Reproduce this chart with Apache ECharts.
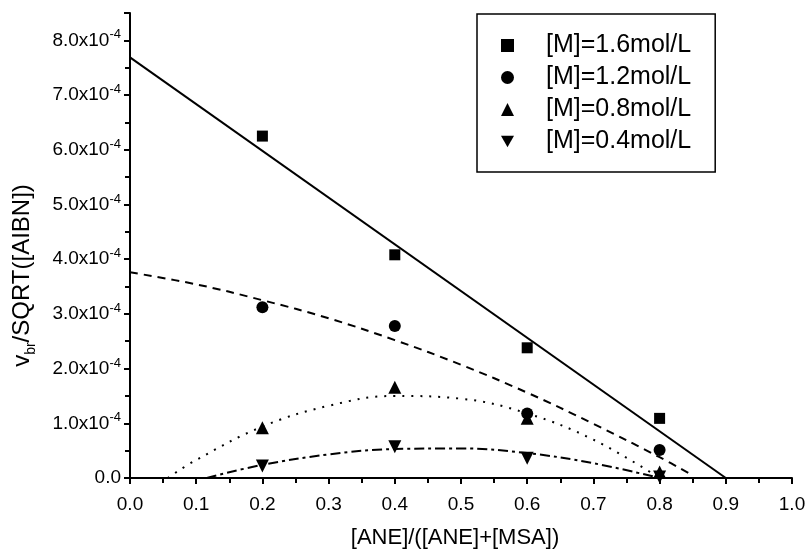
<!DOCTYPE html>
<html>
<head>
<meta charset="utf-8">
<script src="https://cdn.jsdelivr.net/npm/echarts@6/dist/echarts.min.js"></script>
<style>
  html, body { margin: 0; padding: 0; background: #fff; }
  #chart { width: 805px; height: 549px; }
</style>
</head>
<body>
<div id="chart"></div>
<script>
// values in units of 1e-4
const xPoints = [0.2, 0.4, 0.6, 0.8]
const m16 = [6.25, 4.08, 2.38, 1.09]
const m12 = [3.12, 2.78, 1.18, 0.51]
const m08 = [0.92, 1.66, 1.09, 0.11]
const m04 = [0.22, 0.57, 0.36, 0.02]
const seriesNames = ['[M]=1.6mol/L', '[M]=1.2mol/L', '[M]=0.8mol/L', '[M]=0.4mol/L']

// fitted curves
const fit16 = [[0, 7.69], [0.9, 0]]
const fit12 = [[0, 3.76], [0.1, 3.54], [0.2, 3.25], [0.3, 2.92], [0.4, 2.52], [0.5, 2.07], [0.6, 1.56], [0.7, 0.99], [0.8, 0.38], [0.85, 0.05]]
const fit08 = [[0.057, 0], [0.1, 0.33], [0.2, 0.94], [0.3, 1.32], [0.4, 1.5], [0.5, 1.45], [0.6, 1.18], [0.7, 0.7], [0.8, 0]]
const fit04 = [[0.116, 0], [0.2, 0.24], [0.3, 0.43], [0.4, 0.53], [0.5, 0.54], [0.6, 0.455], [0.7, 0.27], [0.8, 0]]

const font = 'Liberation Sans, Arial, sans-serif'
const downTri = 'path://M0,0 L10,0 L5,9 Z'

const chart = echarts.init(document.getElementById('chart'))

const pts = (ys) => xPoints.map((x, i) => [x, ys[i]])

const lineSeries = (data, type) => ({
  type: 'line',
  data: data,
  smooth: 0.4,
  symbol: 'none',
  silent: true,
  z: 1,
  lineStyle: { color: '#000', width: 2, type: type }
})

const scatterSeries = (name, data, symbol, size) => ({
  name: name,
  type: 'scatter',
  data: pts(data),
  symbol: symbol,
  symbolSize: size,
  z: 3,
  itemStyle: { color: '#000', opacity: 1 }
})

chart.setOption({
  backgroundColor: '#fff',
  animation: false,
  textStyle: { fontFamily: font },
  grid: { left: 130, right: 13, top: 13, bottom: 71, containLabel: false, outerBoundsMode: 'none' },
  legend: {
    orient: 'vertical',
    left: 477,
    top: 14,
    padding: [19, 24, 18, 24],
    itemWidth: 13,
    itemHeight: 13,
    itemGap: 7,
    borderColor: '#000',
    borderWidth: 1.5,
    data: seriesNames,
    textStyle: { fontFamily: font, fontSize: 25, lineHeight: 24, color: '#000', padding: [0, 0, 0, 27] }
  },
  xAxis: {
    type: 'value',
    min: 0,
    max: 1,
    interval: 0.1,
    name: '[ANE]/([ANE]+[MSA])',
    nameLocation: 'middle',
    nameGap: 49,
    nameTextStyle: { fontFamily: font, fontSize: 22, color: '#000', padding: [0, 12, 0, 0] },
    splitLine: { show: false },
    axisLine: { onZero: false, lineStyle: { color: '#000', width: 2 } },
    axisTick: { inside: false, length: 6, lineStyle: { color: '#000', width: 2 } },
    minorTick: { show: true, splitNumber: 2, length: 5, lineStyle: { color: '#000', width: 2 } },
    axisLabel: {
      fontFamily: font, fontSize: 19, color: '#000', margin: 17,
      formatter: (v) => v.toFixed(1)
    }
  },
  yAxis: {
    type: 'value',
    min: 0,
    max: 8.5,
    interval: 1,
    name: '{a|v}{b|br}{a|/SQRT([AIBN])}',
    nameLocation: 'middle',
    nameGap: 92,
    nameTextStyle: {
      fontFamily: font, color: '#000',
      padding: [0, 60, 0, 0],
      rich: {
        a: { fontFamily: font, fontSize: 24, color: '#000', lineHeight: 32, verticalAlign: 'middle' },
        b: { fontFamily: font, fontSize: 14, color: '#000', lineHeight: 32, verticalAlign: 'bottom' }
      }
    },
    splitLine: { show: false },
    axisLine: { onZero: false, lineStyle: { color: '#000', width: 2 } },
    axisTick: { inside: false, length: 6, lineStyle: { color: '#000', width: 2 } },
    minorTick: { show: true, splitNumber: 2, length: 5, lineStyle: { color: '#000', width: 2 } },
    axisLabel: {
      showMaxLabel: false,
      margin: 9,
      formatter: (v) => v === 0 ? '{n|0.0}' : '{n|' + v.toFixed(1) + 'x10}{s|-4}',
      rich: {
        n: { fontFamily: font, fontSize: 19, color: '#000', lineHeight: 24, verticalAlign: 'middle' },
        s: { fontFamily: font, fontSize: 13, color: '#000', lineHeight: 24, verticalAlign: 'top' }
      }
    }
  },
  series: [
    lineSeries(fit16, 'solid'),
    lineSeries(fit12, [8, 6]),
    lineSeries(fit08, [2, 7]),
    lineSeries(fit04, [10, 4, 3, 4]),
    scatterSeries(seriesNames[0], m16, 'rect', 11),
    scatterSeries(seriesNames[1], m12, 'circle', 12),
    scatterSeries(seriesNames[2], m08, 'triangle', 13),
    scatterSeries(seriesNames[3], m04, downTri, 13)
  ]
})
</script>
</body>
</html>
